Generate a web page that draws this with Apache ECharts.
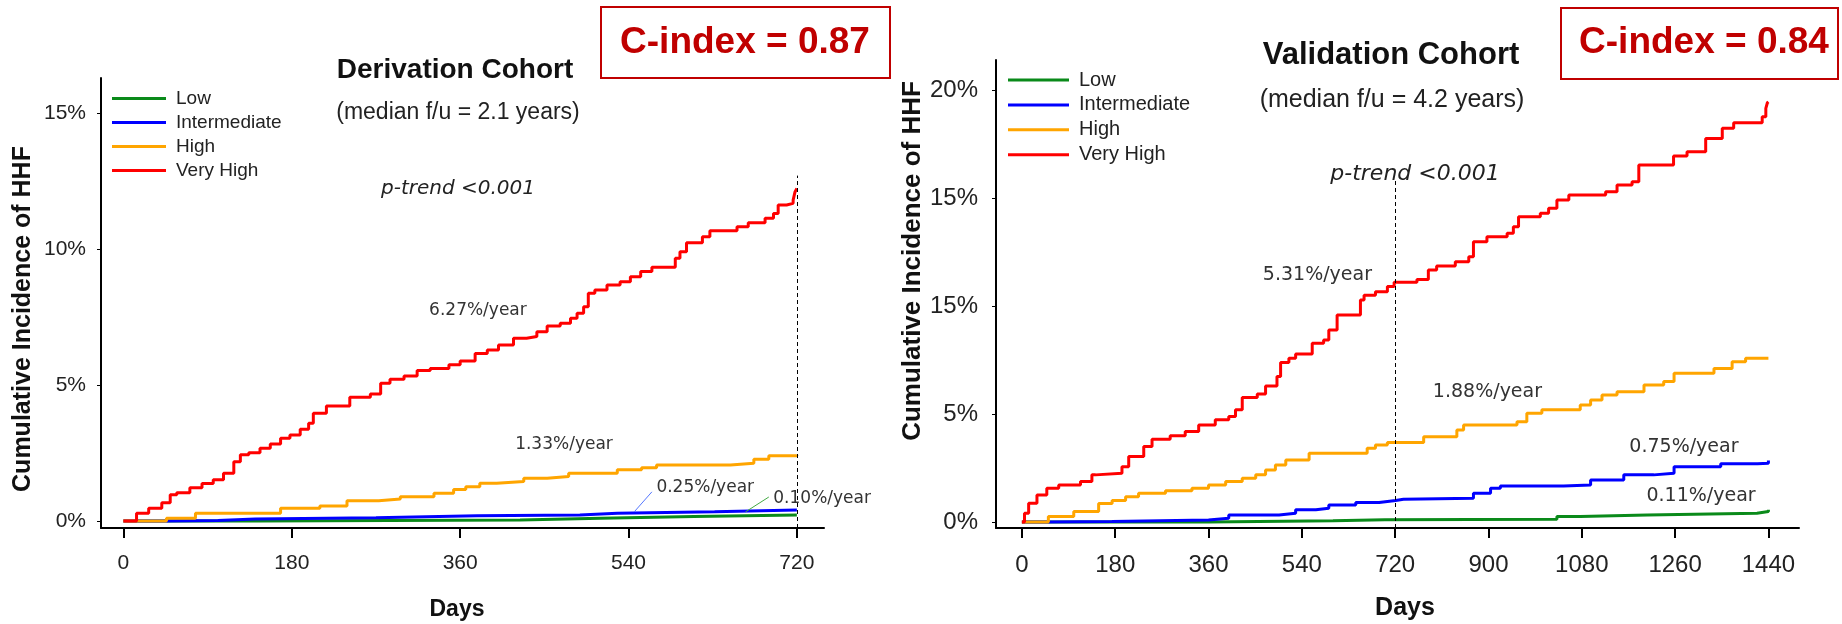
<!DOCTYPE html>
<html>
<head>
<meta charset="utf-8">
<title>HHF cumulative incidence</title>
<script src="https://cdn.jsdelivr.net/npm/echarts@6.0.0/dist/echarts.min.js"></script>
<style>
  html, body { margin: 0; padding: 0; background: #fff; }
  #chart { width: 1842px; height: 624px; }
</style>
</head>
<body>
<div id="chart"></div>
<script>
// ---- data: [day, cumulative incidence %] ----
var riskGroups = ['Low', 'Intermediate', 'High', 'Very High'];
var groupColors = ['#0a8a1a', '#0000ff', '#ffa500', '#ff0000'];

// derivation cohort
var derivLow = [[0,0],[143,0.03],[424,0.10],[510,0.16],[610,0.22],[720,0.22]];
var derivIntermediate = [[0,0],[46,0.02],[101,0.07],[141,0.12],[270,0.19],[378,0.22],[488,0.28],[528,0.34],[632,0.40],[720,0.40]];
var derivHigh = [[0,0],[46,0.10],[77,0.28],[168,0.47],[210,0.55],[239,0.74],[273,0.81],[296,0.89],[332,1.02],[353,1.16],[366,1.26],
  [381,1.39],[399,1.45],[428,1.57],[453,1.63],[476,1.75],[528,1.88],[554,1.96],[570,2.06],[649,2.12],[674,2.27],[690,2.40],[720,2.43]];
var derivVeryHigh = [[0,0],[14,0.28],[27,0.47],[41,0.67],[50,0.96],[57,1.04],[71,1.22],[84,1.38],[96,1.51],[107,1.75],[118,2.18],
  [125,2.43],[134,2.51],[146,2.67],[157,2.83],[168,3.04],[178,3.16],[189,3.37],[198,3.59],[203,3.96],[217,4.23],[242,4.55],
  [264,4.67],[275,5.06],[285,5.21],[300,5.33],[314,5.53],[328,5.61],[348,5.74],[360,5.88],[376,6.16],[389,6.29],[401,6.47],
  [417,6.72],[431,6.78],[442,6.96],[453,7.17],[467,7.27],[478,7.45],[485,7.64],[492,7.88],[497,8.37],[504,8.49],[517,8.68],
  [531,8.80],[542,8.98],[553,9.17],[565,9.33],[590,9.66],[595,9.90],[602,10.23],[619,10.45],[627,10.67],[656,10.82],
  [668,10.97],[686,11.13],[695,11.31],[700,11.62],[709,11.68],[716,11.80],[718,12.10],[720,12.23]];

// validation cohort
var validLow = [[0,0],[360,0.05],[600,0.10],[700,0.12],[1032,0.25],[1077,0.32],[1206,0.40],[1418,0.48],[1440,0.56]];
var validIntermediate = [[0,0],[51,0.02],[174,0.09],[360,0.17],[399,0.32],[496,0.40],[528,0.56],[567,0.63],[592,0.79],[644,0.90],
  [689,0.99],[721,1.05],[736,1.10],[871,1.33],[904,1.56],[923,1.67],[1045,1.71],[1097,1.94],[1161,2.18],[1219,2.25],
  [1258,2.56],[1348,2.69],[1419,2.72],[1440,2.84]];
var validHigh = [[0,0],[51,0.25],[100,0.48],[148,0.86],[174,0.99],[200,1.17],[225,1.33],[277,1.44],[328,1.56],[360,1.71],
  [393,1.87],[425,2.02],[451,2.18],[470,2.41],[489,2.64],[509,2.87],[554,3.18],[666,3.41],[682,3.56],[705,3.68],[775,3.95],
  [839,4.26],[852,4.49],[955,4.64],[974,5.03],[1003,5.19],[1077,5.42],[1097,5.65],[1119,5.88],[1148,6.03],[1200,6.34],
  [1238,6.50],[1258,6.88],[1335,7.11],[1370,7.42],[1396,7.58],[1440,7.58]];
var validVeryHigh = [[0,0],[5,0.40],[13,0.87],[29,1.25],[48,1.56],[71,1.71],[113,1.87],[135,2.18],[142,2.26],[193,2.56],
  [206,3.03],[235,3.49],[251,3.83],[286,3.99],[315,4.19],[341,4.49],[373,4.73],[399,4.88],[412,5.19],[425,5.76],[454,5.93],
  [470,6.30],[492,6.73],[499,7.38],[515,7.58],[528,7.78],[560,8.27],[582,8.43],[592,8.89],[608,9.58],[653,10.28],
  [660,10.50],[682,10.66],[705,10.90],[718,11.10],[762,11.23],[784,11.67],[800,11.85],[836,12.05],[862,12.28],[871,12.98],
  [897,13.21],[936,13.37],[948,13.67],[958,14.13],[1000,14.29],[1016,14.52],[1032,14.91],[1055,15.14],[1126,15.29],
  [1148,15.60],[1177,15.75],[1190,16.53],[1257,16.94],[1283,17.14],[1319,17.76],[1351,18.23],[1373,18.49],[1428,18.76],
  [1435,19.15],[1438,19.41],[1440,19.45]];

// axes
var derivDayTicks = [0, 180, 360, 540, 720];
var validDayTicks = [0, 180, 360, 540, 720, 900, 1080, 1260, 1440];
var derivPctTicks = [0, 5, 10, 15];
var derivPctLabels = ['0%', '5%', '10%', '15%'];
var validPctTicks = [0, 5, 10, 15, 20];
var validPctLabels = ['0%', '5%', '15%', '15%', '20%'];   // as printed in the figure

// rate annotations (text, [day, %])
var derivRates = ['0.10%/year', '0.25%/year', '1.33%/year', '6.27%/year'];
var derivRatePos = [[747, 0.81], [622, 1.21], [471, 2.79], [379, 7.72]];
var validRates = ['0.11%/year', '0.75%/year', '1.88%/year', '5.31%/year'];
var validRatePos = [[1310, 1.20], [1277, 3.49], [898, 6.02], [570, 11.44]];

var derivSets = [derivLow, derivIntermediate, derivHigh, derivVeryHigh];
var validSets = [validLow, validIntermediate, validHigh, validVeryHigh];

var SANS = '"Liberation Sans", Arial, sans-serif';
var DEJA = '"DejaVu Sans", Verdana, sans-serif';

function kmSeries(idx, data, gi, rateText, ratePos, fontSize) {
    return {
        name: riskGroups[idx],
        type: 'line',
        step: 'end',
        data: data,
        xAxisIndex: gi,
        yAxisIndex: gi,
        symbol: 'none',
        showSymbol: false,
        animation: false,
        lineStyle: { color: groupColors[idx], width: 3 },
        itemStyle: { color: groupColors[idx] },
        markPoint: {
            silent: true,
            symbol: 'circle',
            symbolSize: 0,
            label: {
                show: true,
                formatter: rateText,
                color: '#333',
                fontSize: fontSize,
                fontFamily: DEJA
            },
            data: [{ coord: ratePos }]
        }
    };
}

var series = [];
for (var i = 0; i < 4; i++) {
    series.push(kmSeries(i, derivSets[i], 0, derivRates[i], derivRatePos[i], 17));
}
for (var j = 0; j < 4; j++) {
    series.push(kmSeries(j, validSets[j], 1, validRates[j], validRatePos[j], 19));
}

// dashed line at 720 days
function dashLine(top, bottom) {
    return {
        silent: true,
        symbol: 'none',
        label: { show: false },
        lineStyle: { type: [4, 3], color: '#000', width: 1 },
        data: [[{ coord: [720, bottom] }, { coord: [720, top] }]]
    };
}
series[3].markLine = dashLine(12.7, -0.26);
series[7].markLine = dashLine(15.83, -0.28);
// small leader lines for low rates (derivation)
series[1].markLine = {
    silent: true, symbol: 'none', label: { show: false },
    lineStyle: { type: 'solid', color: '#5577ff', width: 1 },
    data: [[{ coord: [565, 1.07] }, { coord: [546, 0.33] }]]
};
series[0].markLine = {
    silent: true, symbol: 'none', label: { show: false },
    lineStyle: { type: 'solid', color: '#44aa44', width: 1 },
    data: [[{ coord: [690, 0.88] }, { coord: [665, 0.33] }]]
};

function xAxisCfg(gi, min, max, ticks, fs) {
    return {
        type: 'value', gridIndex: gi, min: min, max: max,
        axisLine: { show: true, onZero: false, lineStyle: { color: '#000', width: 2 } },
        axisTick: { show: true, customValues: ticks, length: 10, lineStyle: { color: '#000', width: 2 } },
        axisLabel: {
            customValues: ticks, fontSize: fs, fontFamily: SANS, color: '#222', margin: 25,
            formatter: function (v) { return String(Math.round(v)); }
        },
        splitLine: { show: false }
    };
}
function yAxisCfg(gi, min, max, ticks, labels, fs, margin) {
    return {
        type: 'value', gridIndex: gi, min: min, max: max,
        axisLine: { show: true, onZero: false, lineStyle: { color: '#000', width: 2 } },
        axisTick: { show: true, customValues: ticks, length: 4, lineStyle: { color: '#000', width: 1 } },
        axisLabel: {
            customValues: ticks, fontSize: fs, fontFamily: SANS, color: '#222', margin: margin,
            formatter: function (v) { return labels[ticks.indexOf(Math.round(v))]; }
        },
        splitLine: { show: false }
    };
}

function txt(text, x, y, font, color, extra) {
    var el = {
        type: 'text', x: x, y: y, silent: true,
        style: { text: text, x: 0, y: 0, align: 'center', verticalAlign: 'middle', font: font, fill: color || '#111' }
    };
    if (extra) { for (var k in extra) el[k] = extra[k]; }
    return el;
}

var myChart = echarts.init(document.getElementById('chart'), null, { renderer: 'canvas' });
myChart.setOption({
    backgroundColor: '#fff',
    animation: false,
    grid: [
        { left: 101, top: 78, width: 723, height: 450 },
        { left: 996, top: 60, width: 803, height: 468 }
    ],
    xAxis: [
        xAxisCfg(0, -24, 749, derivDayTicks, 21),
        xAxisCfg(1, -50, 1499, validDayTicks, 24)
    ],
    yAxis: [
        yAxisCfg(0, -0.26, 16.29, derivPctTicks, derivPctLabels, 21, 15),
        yAxisCfg(1, -0.28, 21.39, validPctTicks, validPctLabels, 24, 18)
    ],
    legend: [
        {
            data: riskGroups, orient: 'vertical', left: 112, top: 89, padding: 0,
            icon: 'rect', itemWidth: 54, itemHeight: 3, itemGap: 5,
            textStyle: { fontSize: 19, lineHeight: 14, fontFamily: SANS, color: '#222', padding: [0, 0, 0, 5] }
        },
        {
            data: riskGroups, orient: 'vertical', left: 1008, top: 70, padding: 0,
            icon: 'rect', itemWidth: 61, itemHeight: 3, itemGap: 4.9,
            textStyle: { fontSize: 20, lineHeight: 14, fontFamily: SANS, color: '#222', padding: [0, 0, 0, 5] }
        }
    ],
    graphic: [
        // derivation cohort texts
        txt('Derivation Cohort', 455, 70, 'bold 28px ' + SANS, '#111'),
        txt('(median f/u = 2.1 years)', 458, 113, '23px ' + SANS, '#222'),
        txt('p-trend <0.001', 458, 189, 'italic 20px ' + DEJA, '#222'),
        txt('Days', 457, 610, 'bold 23px ' + SANS, '#111'),
        txt('Cumulative Incidence of HHF', 23, 319, 'bold 25px ' + SANS, '#111', { rotation: Math.PI / 2 }),
        {
            type: 'rect', silent: true,
            shape: { x: 601, y: 7, width: 289, height: 71 },
            style: { fill: 'none', stroke: '#c00000', lineWidth: 2 }
        },
        txt('C-index = 0.87', 745, 43, 'bold 37px ' + SANS, '#c00000'),
        // validation cohort texts
        txt('Validation Cohort', 1391, 55, 'bold 31px ' + SANS, '#111'),
        txt('(median f/u = 4.2 years)', 1392, 100, '25px ' + SANS, '#222'),
        txt('p-trend <0.001', 1415, 174, 'italic 22px ' + DEJA, '#222'),
        txt('Days', 1405, 608, 'bold 25px ' + SANS, '#111'),
        txt('Cumulative Incidence of HHF', 913, 261, 'bold 26px ' + SANS, '#111', { rotation: Math.PI / 2 }),
        {
            type: 'rect', silent: true,
            shape: { x: 1561, y: 8, width: 277, height: 71 },
            style: { fill: 'none', stroke: '#c00000', lineWidth: 2 }
        },
        txt('C-index = 0.84', 1704, 43, 'bold 37px ' + SANS, '#c00000')
    ],
    series: series
});
</script>
</body>
</html>
